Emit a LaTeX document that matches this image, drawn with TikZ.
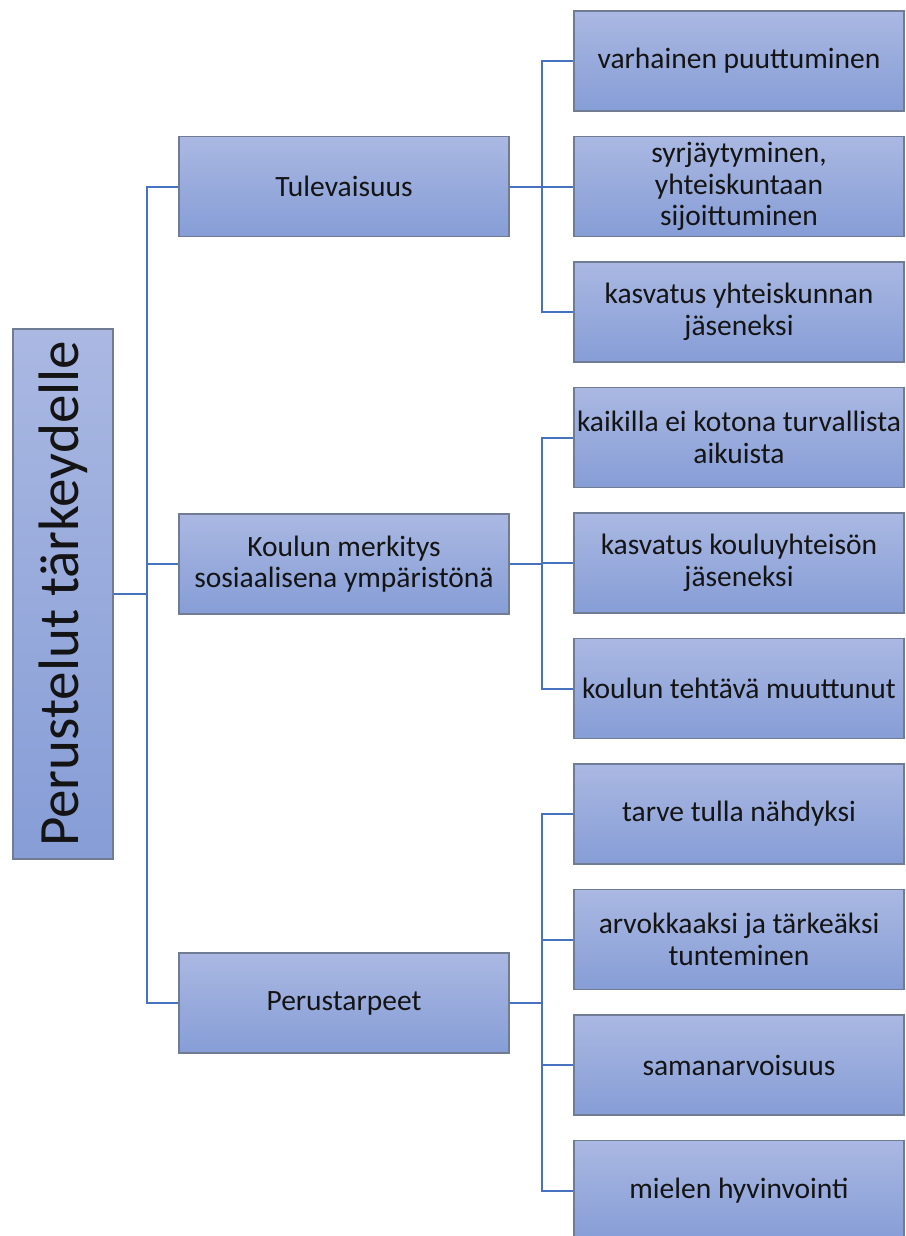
\documentclass[tikz,border=0pt]{standalone}
\usepackage{fontspec}
\setmainfont{Carlito}
\usepackage{graphicx}

\definecolor{boxtop}{RGB}{170,184,226}
\definecolor{boxbot}{RGB}{134,157,214}
\definecolor{boxedge}{RGB}{112,124,148}
\definecolor{linkblue}{RGB}{70,114,192}
\definecolor{ink}{RGB}{20,20,20}

\begin{document}
\begin{tikzpicture}[x=1pt,y=-1pt,
  box/.style={draw=boxedge, line width=1.1pt, top color=boxtop, bottom color=boxbot,
              text=ink, align=center, inner sep=2pt,
              font=\fontsize{29.5}{31.5}\selectfont},
  rootbox/.style={box, minimum width=100pt, minimum height=530pt,
              font=\fontsize{57}{60}\selectfont},
  midbox/.style={box, minimum width=330pt, minimum height=100pt},
  leafbox/.style={box, minimum width=330pt, minimum height=100pt},
  link/.style={draw=linkblue, line width=2pt}]

\useasboundingbox (0,0) rectangle (905,1236);

% root
\node[rootbox] (root) at (63,594) {\rotatebox{90}{Perustelut tärkeydelle}};

% middle level
\node[midbox] (tul) at (344,186.5) {Tulevaisuus};
\node[midbox] (kou) at (344,564) {Koulun merkitys\\sosiaalisena ympäristönä};
\node[midbox] (per) at (344,1003) {Perustarpeet};

% leaves
\node[leafbox] (a1) at (739,61)     {varhainen puuttuminen};
\node[leafbox] (a2) at (739,186.5)  {syrjäytyminen,\\yhteiskuntaan\\sijoittuminen};
\node[leafbox] (a3) at (739,312)    {kasvatus yhteiskunnan\\jäseneksi};
\node[leafbox] (b1) at (739,437.5)  {kaikilla ei kotona turvallista\\aikuista};
\node[leafbox] (b2) at (739,563)    {kasvatus kouluyhteisön\\jäseneksi};
\node[leafbox] (b3) at (739,688.5)  {koulun tehtävä muuttunut};
\node[leafbox] (c1) at (739,814)    {tarve tulla nähdyksi};
\node[leafbox] (c2) at (739,939.5)  {arvokkaaksi ja tärkeäksi\\tunteminen};
\node[leafbox] (c3) at (739,1065)   {samanarvoisuus};
\node[leafbox] (c4) at (739,1190.5) {mielen hyvinvointi};

% bus columns
\coordinate (busA) at (147,0);
\coordinate (busB) at (541.5,0);

% root to middle level
\foreach \m in {tul,kou,per}
  \draw[link] (root.east) -- (root.east -| busA) |- (\m.west);

% middle level to leaves
\foreach \l in {a1,a2,a3}
  \draw[link] (tul.east) -- (tul.east -| busB) |- (\l.west);
\foreach \l in {b1,b2,b3}
  \draw[link] (kou.east) -- (kou.east -| busB) |- (\l.west);
\foreach \l in {c1,c2,c3,c4}
  \draw[link] (per.east) -- (per.east -| busB) |- (\l.west);

\end{tikzpicture}
\end{document}
